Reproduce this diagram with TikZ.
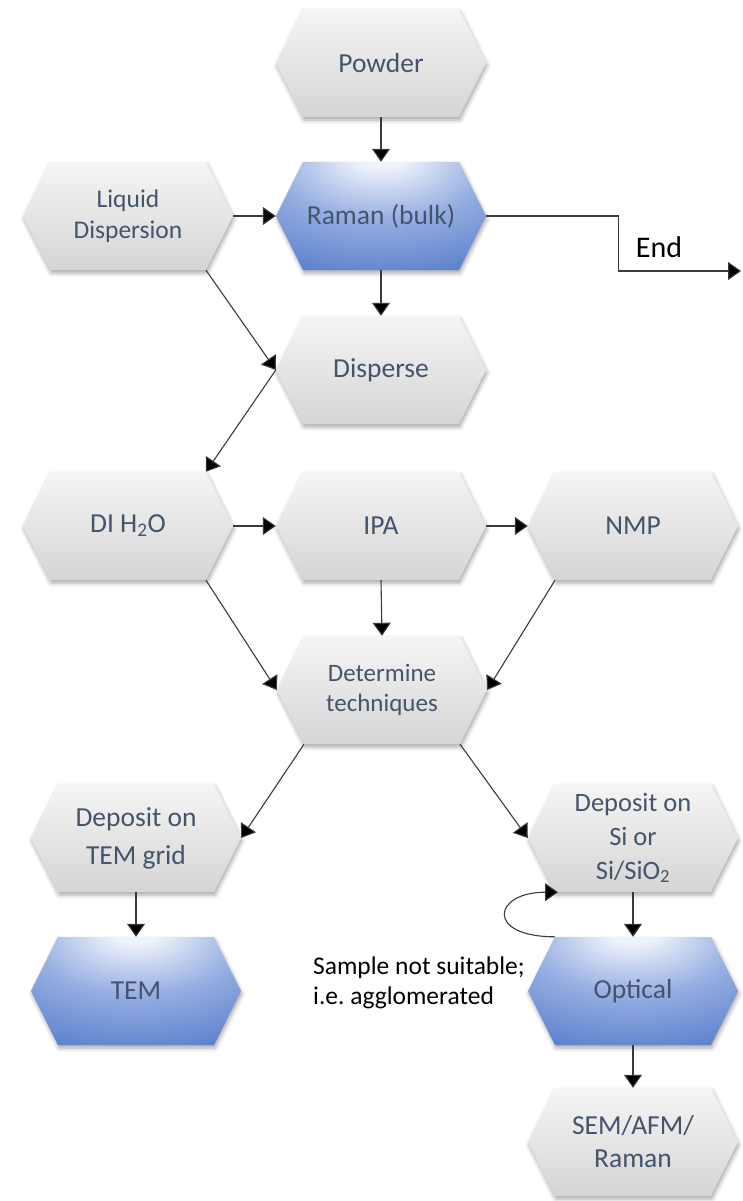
\documentclass[tikz,border=0pt]{standalone}
\usepackage{fontspec}
\setmainfont{Carlito}
\usetikzlibrary{shapes.symbols,shadows.blur,arrows.meta,calc}
\frenchspacing

\definecolor{hextext}{HTML}{44546A}
\definecolor{greytop}{HTML}{F5F5F5}
\definecolor{greybot}{HTML}{D5D5D5}
\definecolor{bluelight}{HTML}{EEF2FB}
\definecolor{bluemid}{HTML}{97AFE2}
\definecolor{bluedark}{HTML}{5A80CC}
\definecolor{linegrey}{HTML}{3A3A3A}

% blue hexagons: pale highlight near the top centre, fading to blue
\pgfdeclareradialshading{hexblue}{\pgfpoint{0bp}{30bp}}{%
  color(0bp)=(bluelight); color(6bp)=(bluelight);
  color(24bp)=(bluemid); color(46bp)=(bluedark); color(100bp)=(bluedark)}

\tikzset{
  hexbase/.style={signal, signal to=west and east, signal pointer angle=127,
    minimum width=210pt, minimum height=108pt, inner sep=0pt, draw=none,
    text=hextext, align=center, font=\fontsize{27.5}{33}\selectfont,
    blur shadow={shadow xshift=1pt, shadow yshift=-3pt,
      shadow blur radius=4pt, shadow opacity=35}},
  greyhex/.style={hexbase, top color=greytop, bottom color=greybot},
  bluehex/.style={hexbase, shading=hexblue},
  conn/.style={draw=linegrey, line width=1.1pt,
    -{Triangle[length=13pt,width=18pt,fill=black]}},
  plaintext/.style={text=black, inner sep=0pt}
}

\begin{document}
\begin{tikzpicture}[x=1pt, y=-1pt]
\useasboundingbox (0,0) rectangle (742,1201);

% process steps
\node[greyhex] (pow) at (381,63) {Powder};
\node[bluehex] (ram) at (381,216) {Raman (bulk)};
\node[greyhex, font=\fontsize{25.5}{31}\selectfont] (liq) at (128,216) {Liquid\\Dispersion};
\node[greyhex] (dis) at (381,370) {Disperse};
\node[greyhex] (di)  at (128,526) {DI H\textsubscript{2}O};
\node[greyhex] (ipa) at (381,526) {IPA};
\node[greyhex] (nmp) at (633,526) {NMP};
\node[greyhex, font=\fontsize{25}{30}\selectfont] (det) at (382,690) {Determine\\techniques};
\node[greyhex, font=\fontsize{27.5}{38}\selectfont] (dtem) at (136,838) {Deposit on\\TEM grid};
\node[greyhex, font=\fontsize{26.5}{34}\selectfont] (dsi) at (633,838) {Deposit on\\Si or\\Si/SiO\textsubscript{2}};
\node[bluehex] (tem) at (136,991) {TEM};
\node[bluehex] (opt) at (633,991) {Optical};
\node[greyhex] (sem) at (633,1142) {SEM/AFM/\\Raman};

% free labels
\node[plaintext, font=\fontsize{30}{34}\selectfont] (endtxt) at (659,247) {End};
\node[plaintext, anchor=west, align=left, font=\fontsize{25.5}{30}\selectfont]
  (note) at (313,983) {Sample not suitable;\\i.e. agglomerated};
\coordinate (endpt) at (741,271);

% connectors
\draw[conn] (pow.south) -- (ram.north);
\draw[conn] (liq.east) -- (ram.west);
\draw[conn] (ram.east) -- ++(132,0) |- (endpt);
\draw[conn] (ram.south) -- (dis.north);
\draw[conn] ([xshift=78pt]liq.south) -- (dis.west);
\draw[conn] (dis.west) -- ([xshift=78pt]di.north);
\draw[conn] (di.east) -- (ipa.west);
\draw[conn] (ipa.east) -- (nmp.west);
\draw[conn] ([xshift=78pt]di.south) -- (det.west);
\draw[conn] (ipa.south) -- (det.north);
\draw[conn] ([xshift=-78pt]nmp.south) -- (det.east);
\draw[conn] ([xshift=-78pt]det.south) -- (dtem.east);
\draw[conn] ([xshift=78pt]det.south) -- (dsi.west);
\draw[conn] (dtem.south) -- (tem.north);
\draw[conn] (dsi.south) -- (opt.north);
\draw[conn] (opt.south) -- (sem.north);
\draw[conn] ([xshift=-78pt]opt.north) .. controls +(-70,0) and +(-65,0) .. ([xshift=-75pt]dsi.south);
\end{tikzpicture}
\end{document}
